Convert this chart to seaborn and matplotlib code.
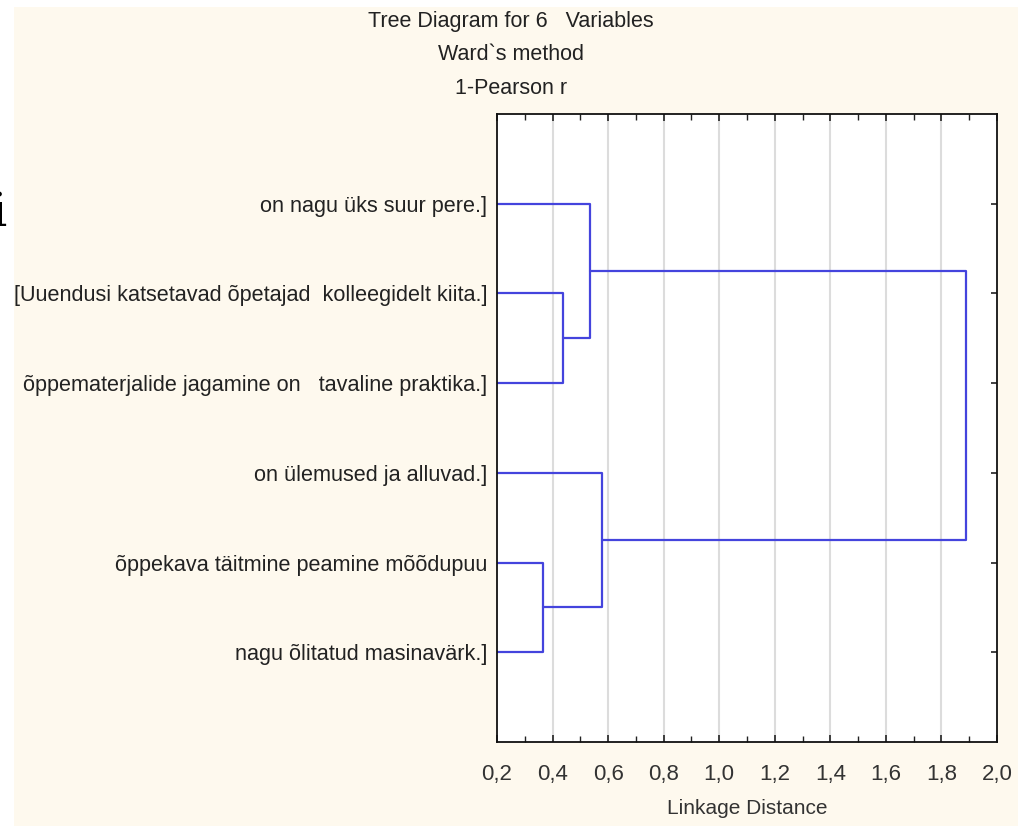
import numpy as np
import pandas as pd
import matplotlib
matplotlib.use("Agg")
import matplotlib.pyplot as plt
import seaborn as sns
from matplotlib.patches import Rectangle
from matplotlib.ticker import MultipleLocator, FixedLocator

sns.set_style("white")
plt.rcParams['font.family'] = ['Liberation Sans', 'DejaVu Sans']

# ---- data ----
leaf_labels = [
    "on nagu üks suur pere.]",
    "[Uuendusi katsetavad õpetajad  kolleegidelt kiita.]",
    "õppematerjalide jagamine on   tavaline praktika.]",
    "on ülemused ja alluvad.]",
    "õppekava täitmine peamine mõõdupuu",
    "nagu õlitatud masinavärk.]",
]
merge_left = [4, 1, 0, 3, 8]
merge_right = [5, 2, 7, 6, 9]
merge_dist = [0.365, 0.438, 0.535, 0.578, 1.89]
x_ticks = [0.2, 0.4, 0.6, 0.8, 1.0, 1.2, 1.4, 1.6, 1.8, 2.0]
x_tick_labels = ["0,2", "0,4", "0,6", "0,8", "1,0", "1,2", "1,4", "1,6", "1,8", "2,0"]
title_lines = ["Tree Diagram for 6   Variables", "Ward`s method", "1-Pearson r"]
x_label = "Linkage Distance"

# ---- build dendrogram segments ----
n = len(leaf_labels)
pos = {i: i + 1 for i in range(n)}      # y position (top leaf = 1)
height = {i: 0.0 for i in range(n)}
rows = []
seg = 0
for k, (a, b, d) in enumerate(zip(merge_left, merge_right, merge_dist)):
    node = n + k
    ya, yb = pos[a], pos[b]
    pts = [(height[a], ya), (d, ya), (d, yb), (height[b], yb)]
    for x, y in pts:
        rows.append({"seg": seg, "x": x, "y": y})
    seg += 1
    pos[node] = (ya + yb) / 2
    height[node] = d
df = pd.DataFrame(rows)

W, H = 1018, 826
fig = plt.figure(figsize=(W / 100, H / 100), dpi=100, facecolor="white")
fig.patches.append(Rectangle((14 / W, 0), 1, 1 - 7 / H, transform=fig.transFigure,
                             facecolor="#fef9ee", edgecolor="none", zorder=-10))

ax = fig.add_axes([497 / W, 1 - 742 / H, 500 / W, 628 / H])
ax.set_facecolor("white")

sns.lineplot(data=df, x="x", y="y", units="seg", estimator=None, sort=False,
             color="#4444dd", linewidth=1.6, ax=ax, legend=False)

ax.set_xlim(0.2, 2.0)
ax.set_ylim(n + 1, 0)

ax.xaxis.set_major_locator(FixedLocator(x_ticks))
ax.set_xticklabels(x_tick_labels)
ax.xaxis.set_minor_locator(MultipleLocator(0.1))
ax.set_yticks(range(1, n + 1))
ax.set_yticklabels(leaf_labels)

for xv in x_ticks[1:-1]:
    ax.axvline(xv, color="#dcdcdc", linewidth=1.5, zorder=0)

ax.tick_params(axis="both", which="both", direction="in", top=True, right=True,
               left=True, bottom=True, color="#222222")
ax.tick_params(axis="x", which="major", length=5, width=1.2, labelsize=16,
               labelcolor="#333333", pad=16)
ax.tick_params(axis="x", which="minor", length=4, width=1.0)
ax.tick_params(axis="y", which="major", length=4, width=1.2, labelsize=15.6,
               labelcolor="#222222", pad=7)

for s in ax.spines.values():
    s.set_color("#111111")
    s.set_linewidth(1.3)
    s.set_visible(True)

ax.set_xlabel(x_label, fontsize=15, color="#333333", labelpad=10)
ax.set_ylabel("")

title_y = [22, 54, 88]
for t, yy in zip(title_lines, title_y):
    fig.text(511 / W, 1 - yy / H, t, ha="center", va="center", fontsize=15.5,
             color="#222222")

# clipped glyph at the left edge (cut off in the reference too)
fig.text(-9 / W, 1 - 213 / H, "i", ha="left", va="center", fontsize=34,
         family="DejaVu Serif", color="black")

fig.savefig("out.png", dpi=100, facecolor=fig.get_facecolor())
